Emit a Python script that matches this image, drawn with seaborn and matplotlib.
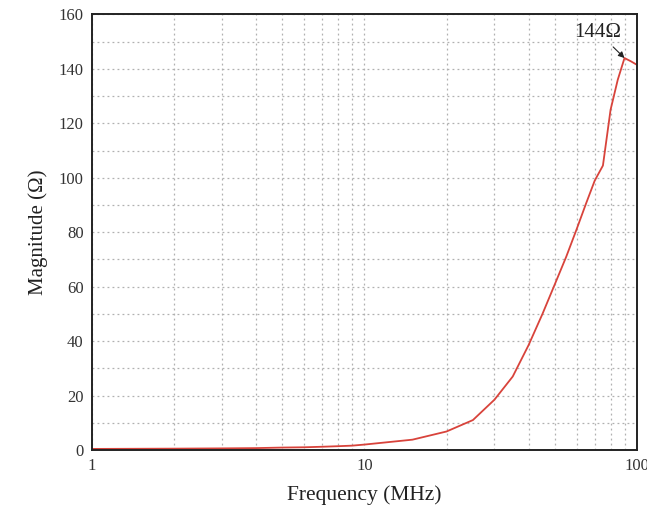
import numpy as np
import pandas as pd
import seaborn as sns
import matplotlib
matplotlib.use("Agg")
import matplotlib.pyplot as plt
from matplotlib.ticker import FixedLocator, NullFormatter, FixedFormatter, MultipleLocator

# Data
freq_mhz = [1, 2, 3, 4, 5, 6, 7, 8, 9, 10, 15, 20, 25, 30, 35, 40, 45, 50,
            55, 60, 65, 70, 75, 80, 85, 90, 95, 100]
magnitude = [0.4, 0.5, 0.6, 0.7, 0.9, 1.0, 1.2, 1.4, 1.6, 2.0, 3.8, 6.8, 11.0,
             18.5, 27.0, 38.5, 50.0, 61.0, 71.0, 81.0, 90.5, 99.0, 104.5,
             125.0, 136.0, 144.0, 142.8, 141.5]
x_ticks = [1, 10, 100]
x_tick_labels = ["1", "10", "100"]
y_ticks = [0, 20, 40, 60, 80, 100, 120, 140, 160]
peak_label = "144\u03a9"
peak_x, peak_y = 90, 144

sns.set_theme(style="white")
plt.rcParams["font.family"] = ["Liberation Serif", "DejaVu Serif"]
plt.rcParams["mathtext.fontset"] = "stix"

df = pd.DataFrame({"Frequency": freq_mhz, "Magnitude": magnitude})

fig = plt.figure(figsize=(6.47, 5.14), dpi=100)
ax = fig.add_axes([0.1422, 0.1245, 0.8423, 0.8473])

sns.lineplot(data=df, x="Frequency", y="Magnitude", ax=ax, color="#d8433b",
             linewidth=1.3)

ax.set_xscale("log")
ax.set_xlim(1, 100)
ax.set_ylim(0, 160)

ax.xaxis.set_major_locator(FixedLocator(x_ticks))
ax.xaxis.set_major_formatter(FixedFormatter(x_tick_labels))
minor_x = [m * d for d in (1, 10) for m in range(2, 10)]
ax.xaxis.set_minor_locator(FixedLocator(minor_x))
ax.xaxis.set_minor_formatter(NullFormatter())
ax.yaxis.set_major_locator(FixedLocator(y_ticks))
ax.yaxis.set_minor_locator(MultipleLocator(10))

ax.grid(True, which="both", linestyle=(0, (1.5, 2.5)), color="#b0b0b0",
        linewidth=0.9)
ax.set_axisbelow(True)

ax.tick_params(axis="both", which="major", direction="in", length=6, width=1.3,
               labelsize=12, colors="#222222", labelcolor="#333333", pad=6,
               top=False, right=False)
ax.tick_params(axis="both", which="minor", direction="in", length=3, width=1.0,
               colors="#222222", top=False, right=False)

for s in ax.spines.values():
    s.set_visible(True)
    s.set_color("#222222")
    s.set_linewidth(1.4)

ax.set_xlabel("Frequency (MHz)", fontsize=15.5, color="#222222", labelpad=8)
ax.set_ylabel("Magnitude (\u03a9)", fontsize=15, color="#222222", labelpad=8)

ax.annotate(peak_label, xy=(peak_x, peak_y), xytext=(72, 153.5),
            ha="center", va="center", fontsize=15, color="#222222",
            arrowprops=dict(arrowstyle="-|>", color="#222222", lw=0.8,
                            mutation_scale=9, shrinkA=2, shrinkB=0))

fig.savefig("out.png", dpi=100)
